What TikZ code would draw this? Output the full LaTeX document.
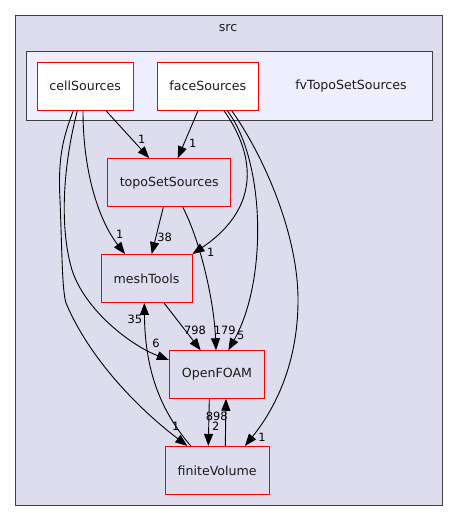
\documentclass[tikz,border=0pt]{standalone}
\usepackage{fontspec}
\setmainfont{DejaVu Sans}
\usetikzlibrary{arrows.meta}
\definecolor{clusterbg}{HTML}{DDDDEE}
\definecolor{innerbg}{HTML}{EEEEFF}
\definecolor{clusterline}{HTML}{404040}
\definecolor{txt}{HTML}{1A1A1A}
\begin{document}
\begin{tikzpicture}[x=1pt,y=-1pt,
  cluster/.style={draw=clusterline, line width=1pt},
  dirbox/.style={draw=red, line width=0.9pt, inner sep=0pt, text=txt, font=\fontsize{12.6}{15}\selectfont},
  ctext/.style={inner sep=0pt, text=txt, font=\fontsize{12.6}{15}\selectfont},
  edgeline/.style={draw=black, line width=0.9pt, -{Triangle[length=12pt,width=9pt]}},
  elabel/.style={inner sep=0pt, text=black, font=\fontsize{11.4}{13}\selectfont}]
\useasboundingbox (0,0) rectangle (459,521);
\fill[white] (0,0) rectangle (459,521);
% clusters
\filldraw[cluster, fill=clusterbg] (15.7,15.7) rectangle (442.5,505);
\node[ctext] (srclabel) at (228,27.7) {src};
\filldraw[cluster, fill=innerbg] (26.7,51.7) rectangle (432.3,121);
\node[ctext] (fvlabel) at (351,85.7) {fvTopoSetSources};
% nodes
\node[dirbox, fill=white, minimum width=96.3pt, minimum height=48pt] (cell) at (85.2,86.3) {cellSources};
\node[dirbox, fill=white, minimum width=101.7pt, minimum height=48pt] (face) at (207.8,86.3) {faceSources};
\node[dirbox, fill=clusterbg, minimum width=123pt, minimum height=48pt] (topo) at (169.2,182.7) {topoSetSources};
\node[dirbox, fill=clusterbg, minimum width=91pt, minimum height=48pt] (mesh) at (146.5,278.5) {meshTools};
\node[dirbox, fill=clusterbg, minimum width=95.4pt, minimum height=47.6pt] (ofoam) at (217,374.5) {OpenFOAM};
\node[dirbox, fill=clusterbg, minimum width=104.3pt, minimum height=48pt] (fv) at (217.2,470.3) {finiteVolume};
% edges
\draw[edgeline] ([xshift=20.8pt]cell.south) -- ([xshift=-19.9pt]topo.north);
\node[elabel] (l1) at (141.8,139) {1};
\draw[edgeline] ([xshift=-9.8pt]face.south) -- ([xshift=8.5pt]topo.north);
\node[elabel] (l2) at (192.8,143.7) {1};
\draw[edgeline] ([xshift=-2.2pt]cell.south) .. controls (83,175) and (100,222) .. ([xshift=-21.5pt]mesh.north);
\node[elabel] (l3) at (119.7,234) {1};
\draw[edgeline] ([xshift=-5.9pt]topo.south) -- ([xshift=5.2pt]mesh.north);
\node[elabel] (l4) at (164.5,237.3) {38};
\draw[edgeline] ([xshift=16.2pt]face.south) .. controls (252,150) and (265,205) .. (mesh.north east);
\node[elabel] (l5) at (210.8,252.7) {1};
\draw[edgeline] ([xshift=13.5pt]topo.south) .. controls (200,240) and (214,300) .. ([xshift=-1pt]ofoam.north);
\node[elabel] (l6) at (224.7,330) {179};
\draw[edgeline] ([xshift=19.5pt]face.south) .. controls (265,160) and (268,280) .. ([xshift=11.3pt]ofoam.north);
\node[elabel] (l7) at (240.7,335.7) {5};
\draw[edgeline] ([xshift=23.9pt]face.south) .. controls (260,150) and (298,230) .. (298,300) .. controls (298,370) and (270,415) .. ([xshift=27.8pt]fv.north);
\node[elabel] (l8) at (262,437.7) {1};
\draw[edgeline] ([xshift=17.5pt]mesh.south) -- ([xshift=-16.3pt]ofoam.north);
\node[elabel] (l9) at (195,330) {798};
\draw[edgeline] ([xshift=-7.9pt]cell.south) .. controls (62,170) and (60,230) .. (72,270) .. controls (85,310) and (130,345) .. ([yshift=14.5pt]ofoam.west);
\node[elabel] (l10) at (156,343.3) {6};
\draw[edgeline] ([xshift=-11.9pt]cell.south) .. controls (62,140) and (58,160) .. (60,200) .. controls (62,250) and (62,290) .. (66,303) .. controls (90,360) and (140,410) .. ([xshift=-29.9pt]fv.north);
\node[elabel] (l11) at (175.7,426.7) {1};
\draw[edgeline] ([xshift=-26.5pt]fv.north) .. controls (160,410) and (145,370) .. ([xshift=-2.2pt]mesh.south);
\node[elabel] (l12) at (135,319.3) {35};
\draw[edgeline] ([xshift=-7.7pt]ofoam.south) -- ([xshift=-8.9pt]fv.north);
\node[elabel] (l13) at (215.7,426.7) {2};
\draw[edgeline] ([xshift=8.1pt]fv.north) -- ([xshift=9pt]ofoam.south);
\node[elabel] (l14) at (216.7,416.7) {898};
\end{tikzpicture}
\end{document}
